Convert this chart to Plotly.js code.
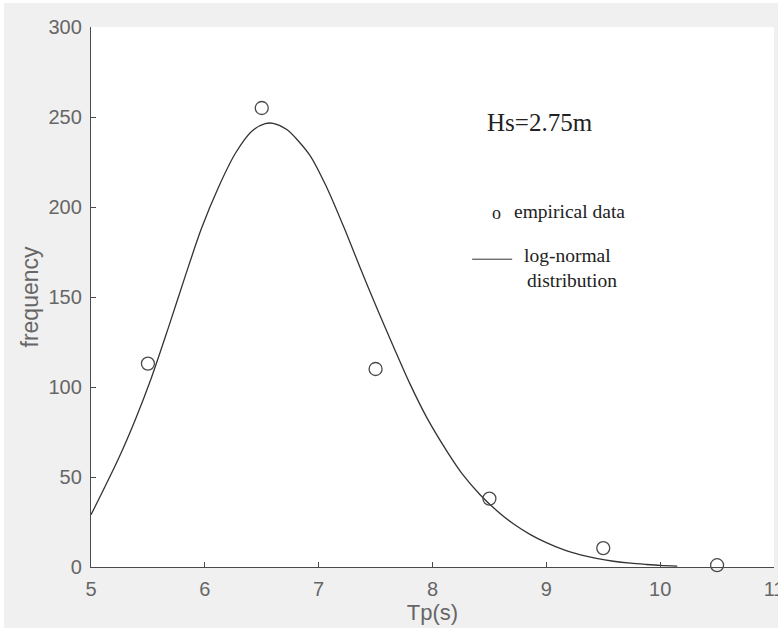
<!DOCTYPE html>
<html>
<head>
<meta charset="utf-8">
<script src="https://cdn.plot.ly/plotly-3.0.1.min.js"></script>
<style>
  html, body { margin: 0; padding: 0; background: #ffffff; }
  #chart { position: absolute; left: 4px; top: 3px; width: 774px; height: 625px; }
</style>
</head>
<body>
<div id="chart"></div>
<script>
// Empirical data (Tp in s, frequency)
const empiricalTp   = [5.5, 6.5, 7.5, 8.5, 9.5, 10.5];
const empiricalFreq = [113, 255, 110, 38, 10.5, 1];

// Fitted log-normal curve
const curveTp   = [5.0, 5.24, 5.39, 5.53, 5.68, 5.83, 5.97, 6.12, 6.27, 6.41, 6.53, 6.60, 6.72, 6.92, 7.07, 7.22, 7.36, 7.51, 7.66, 7.80, 7.95, 8.13, 8.27, 8.42, 8.57, 8.71, 8.86, 9.00, 9.15, 9.30, 9.44, 9.59, 9.74, 9.88, 10.00, 10.15];
const curveFreq = [29, 60, 82, 105, 133, 162, 188, 211, 230, 242, 246.3, 246.5, 243, 229, 211, 189, 167, 144, 122, 102, 83, 64, 51, 40, 31, 24, 18, 13.5, 9.6, 6.8, 4.8, 3.2, 2.1, 1.4, 0.9, 0.5];

// Axis ticks
const xTicks = [5, 6, 7, 8, 9, 10, 11];
const yTicks = [0, 50, 100, 150, 200, 250, 300];

const traces = [
  {
    x: curveTp, y: curveFreq, type: 'scatter', mode: 'lines',
    line: { color: '#333333', width: 1.3, shape: 'spline', smoothing: 0.8 },
    hoverinfo: 'skip'
  },
  {
    x: empiricalTp, y: empiricalFreq, type: 'scatter', mode: 'markers',
    marker: { symbol: 'circle-open', size: 13, color: '#4a4a4a', line: { width: 1.3, color: '#4a4a4a' } },
    cliponaxis: false
  }
];

const serif = 'Liberation Serif, Times New Roman, serif';
const sans = 'Liberation Sans, Arial, Helvetica, sans-serif';
const labelGray = '#666666';

const layout = {
  width: 774, height: 625,
  margin: { l: 87, r: 4, t: 24, b: 61 },
  paper_bgcolor: '#f0f0f0',
  plot_bgcolor: '#ffffff',
  showlegend: false,
  xaxis: {
    range: [5, 11], tickvals: xTicks, ticktext: xTicks.map(String),
    showgrid: false, zeroline: false,
    showline: true, linecolor: '#4a4a4a', linewidth: 1.2,
    ticks: 'inside', ticklen: 5, tickcolor: '#4a4a4a',
    ticklabeloverflow: 'allow', ticklabelstandoff: 4,
    tickfont: { family: sans, size: 20, color: labelGray },
    title: { text: 'Tp(s)', font: { family: sans, size: 22, color: labelGray }, standoff: 0 }
  },
  yaxis: {
    range: [0, 300], tickvals: yTicks, ticktext: yTicks.map(String),
    showgrid: false, zeroline: false,
    showline: true, linecolor: '#4a4a4a', linewidth: 1.2,
    ticks: 'inside', ticklen: 5, tickcolor: '#4a4a4a',
    ticklabelstandoff: 4,
    tickfont: { family: sans, size: 20, color: labelGray },
    title: { text: 'frequency', font: { family: sans, size: 23, color: labelGray }, standoff: 3 }
  },
  shapes: [
    { type: 'line', xref: 'x', yref: 'y', x0: 8.348, x1: 8.70, y0: 171, y1: 171,
      line: { color: '#333333', width: 1 } }
  ],
  annotations: [
    { xref: 'x', yref: 'y', x: 8.94, y: 246.7, text: 'Hs=2.75m', showarrow: false,
      xanchor: 'center', yanchor: 'middle', font: { family: serif, size: 25, color: '#222222' } },
    { xref: 'x', yref: 'y', x: 8.558, y: 196.5, text: 'o', showarrow: false,
      xanchor: 'center', yanchor: 'middle', font: { family: serif, size: 18, color: '#222222' } },
    { xref: 'x', yref: 'y', x: 8.70, y: 197.5, text: 'empirical data', showarrow: false,
      xanchor: 'left', yanchor: 'middle', font: { family: serif, size: 19.5, color: '#222222' } },
    { xref: 'x', yref: 'y', x: 8.787, y: 173, text: 'log-normal', showarrow: false,
      xanchor: 'left', yanchor: 'middle', font: { family: serif, size: 19.5, color: '#222222' } },
    { xref: 'x', yref: 'y', x: 8.814, y: 159, text: 'distribution', showarrow: false,
      xanchor: 'left', yanchor: 'middle', font: { family: serif, size: 19.5, color: '#222222' } }
  ]
};

Plotly.newPlot('chart', traces, layout, { staticPlot: true, displayModeBar: false });
</script>
</body>
</html>
